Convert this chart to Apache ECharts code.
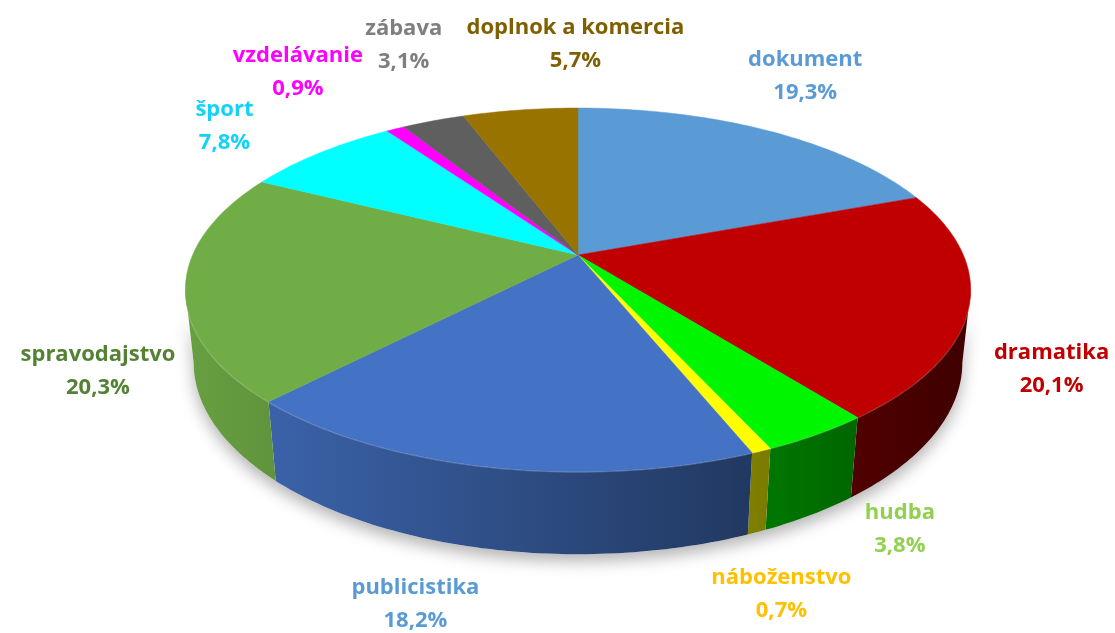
<!DOCTYPE html>
<html>
<head>
<meta charset="utf-8">
<script src="https://cdn.jsdelivr.net/npm/echarts@6/dist/echarts.min.js"></script>
<style>
html,body{margin:0;padding:0;background:#fff;}
#chart{width:1115px;height:633px;}
</style>
</head>
<body>
<div id="chart"></div>
<script>
// ---- data ----
const categories = ['dokument','dramatika','hudba','náboženstvo','publicistika','spravodajstvo','šport','vzdelávanie','zábava','doplnok a komercia'];
const shares = [19.3, 20.1, 3.8, 0.7, 18.2, 20.3, 7.8, 0.9, 3.1, 5.7];
const sliceColors = ['#5B9BD5','#C00000','#00F500','#FFFF00','#4472C4','#70AD47','#00FFFF','#FF00FF','#5F5F5F','#997300'];
const labelColors = ['#5B9BD5','#C00000','#92D050','#FFC000','#5B9BD5','#548235','#12D2F7','#FF00FF','#7F7F7F','#7F6000'];

// ---- label nudges (px, relative to the anchor just outside each slice) ----
const labelNudge = [[18,-42],[42,-17],[55,-13],[-2,31],[-61,21],[-48,9],[-68,-16],[-79,-44],[-15,-62],[61,-51]];

// ---- projection (perspective view of a tilted disk) ----
const CX = 578, CY = 255, F = 1790, D = 4.645, S = 0.4545, C = Math.sqrt(1 - 0.4545 * 0.4545), H = 0.2124;
function proj(X, Y, Z) {
  const zc = D - Y * S - Z * C;
  const yc = Y * C - Z * S;
  return [CX + F * X / zc, CY - F * yc / zc];
}
const total = shares.reduce((a, b) => a + b, 0);
const cum = [];
shares.reduce((acc, v, i) => { cum[i] = acc; return acc + v; }, 0);

function hexToRgb(h) { const n = parseInt(h.slice(1), 16); return [(n >> 16) & 255, (n >> 8) & 255, n & 255]; }
function shade(h, f) { const c = hexToRgb(h); return 'rgb(' + c.map(v => Math.round(v * f)).join(',') + ')'; }

function arcPts(a0, a1, Y, k) {
  const pts = [];
  const n = Math.max(2, Math.ceil((a1 - a0) / (Math.PI / 180)));
  for (let j = 0; j <= n; j++) {
    const a = a0 + (a1 - a0) * j / n;
    pts.push(proj(k * Math.sin(a), Y, -k * Math.cos(a)));
  }
  return pts;
}

const FONT = 'bold 22px "Open Sans"';
const visLo = Math.acos(-0.19), visHi = 2 * Math.PI - Math.acos(-0.19);

function angles(i) {
  const a0 = cum[i] / total * 2 * Math.PI;
  const a1 = (cum[i] + shares[i]) / total * 2 * Math.PI;
  return [a0, a1];
}

function renderSide(params, api) {
  const i = params.dataIndex;
  const [a0, a1] = angles(i);
  const children = [];
  if (i === 0) {
    const base = arcPts(visLo, visHi, -H, 1).concat(arcPts(visLo, visHi, 0, 1).reverse());
    children.push({ type: 'polygon', z2: -1, shape: { points: base },
      style: { fill: '#ffffff', shadowColor: 'rgba(0,0,0,0.3)', shadowBlur: 16, shadowOffsetY: 7 } });
  }
  const lo = Math.max(a0, visLo), hi = Math.min(a1, visHi);
  if (hi > lo) {
    const col = sliceColors[i];
    const top = arcPts(lo, hi, 0, 1);
    const bot = arcPts(lo, hi, -H, 1);
    children.push({ type: 'polygon', shape: { points: top.concat(bot.reverse()) },
      style: { fill: { type: 'linear', x: 190, y: 0, x2: 970, y2: 0, global: true,
        colorStops: [{ offset: 0, color: shade(col, 0.92) }, { offset: 1, color: shade(col, 0.33) }] },
        stroke: null } });
    children.push({ type: 'polyline', shape: { points: top },
      style: { stroke: 'rgba(255,255,255,0.22)', lineWidth: 2, fill: null } });
  }
  return { type: 'group', children };
}

function renderTop(params, api) {
  const i = params.dataIndex;
  const [a0, a1] = angles(i);
  const v = api.value(0);
  const pts = [proj(0, 0, 0)].concat(arcPts(a0, a1, 0, 1));
  const children = [{ type: 'polygon', shape: { points: pts }, style: { fill: sliceColors[i], stroke: sliceColors[i], lineWidth: 0.5 } }];
  // label anchored just outside the slice's mid-angle
  const m = (a0 + a1) / 2;
  const Z = -Math.cos(m);
  const p = proj(1.12 * Math.sin(m), Z > 0 ? -H : 0, 1.12 * Z);
  const txt = v.toFixed(1).replace('.', ',') + '%';
  children.push({ type: 'text', x: p[0] + labelNudge[i][0], y: p[1] + labelNudge[i][1], z2: 20,
    style: { text: categories[i] + '\n' + txt, fill: labelColors[i], font: FONT, align: 'center', verticalAlign: 'middle', lineHeight: 33 } });
  return { type: 'group', children };
}

const seriesData = shares.map((v, i) => ({ name: categories[i], value: [v] }));

const chart = echarts.init(document.getElementById('chart'), null, { renderer: 'canvas' });
chart.setOption({
  animation: false,
  backgroundColor: '#ffffff',
  series: [
    { type: 'custom', coordinateSystem: 'none', renderItem: renderSide, data: seriesData, silent: true },
    { type: 'custom', coordinateSystem: 'none', renderItem: renderTop, data: seriesData, silent: true }
  ]
});
</script>
</body>
</html>
